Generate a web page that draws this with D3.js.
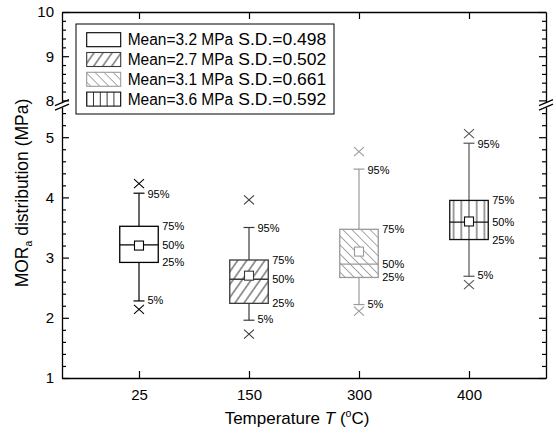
<!DOCTYPE html>
<html>
<head>
<meta charset="utf-8">
<script src="https://cdn.jsdelivr.net/npm/d3@7"></script>
<style>
  html, body { margin: 0; padding: 0; background: #fff; }
  svg { display: block; font-family: "Liberation Sans", Arial, sans-serif; }
</style>
</head>
<body>
<svg id="chart" width="556" height="433"></svg>
<script>
// Temperatures (°C) of the four groups
const categories = ["25", "150", "300", "400"];
// Percentile statistics of MOR_a (MPa) per temperature
const p5   = [2.28, 1.96, 2.22, 2.69];
const p25  = [2.92, 2.24, 2.67, 3.30];
const p50  = [3.21, 2.64, 2.89, 3.59];
const p75  = [3.52, 2.96, 3.47, 3.95];
const p95  = [4.07, 3.50, 4.47, 4.90];
const mins = [2.14, 1.73, 2.11, 2.55];
const maxs = [4.23, 3.96, 4.76, 5.06];
const means = [3.2, 2.7, 3.1, 3.6];
const sds = ["0.498", "0.502", "0.661", "0.592"];
// Axis tick values
const yTicksLow = [1, 2, 3, 4, 5];
const yTicksHigh = [8, 9, 10];

// Drawing styles for each group
const strokeColors = ["#000", "#3a3a3a", "#9a9a9a", "#111"];
const whiskerColors = ["#000", "#3a3a3a", "#9a9a9a", "#555"];
const fills = [null, "hatchFwd", "hatchBack", "vlines"];

const svg = d3.select("#chart");
const L = 62, R = 546, T = 12, B = 378;

const x = d3.scaleLinear().domain([0.3, 4.7]).range([L, R]);
// broken y axis: lower part 1–5.5, upper part 7.95–10
const yLow = d3.scaleLinear().domain([1, 5.5]).range([B, 107.1]);
const yHigh = d3.scaleLinear().domain([7.95, 10]).range([102.6, T]);
const y = v => v <= 6 ? yLow(v) : yHigh(v);

const defs = svg.append("defs");
function linePattern(id, w, angle, color, sw, ox) {
  const p = defs.append("pattern").attr("id", id)
    .attr("patternUnits", "userSpaceOnUse")
    .attr("width", w).attr("height", 40)
    .attr("x", ox || 0)
    .attr("patternTransform", angle ? `rotate(${angle})` : null);
  p.append("line").attr("x1", w / 2).attr("x2", w / 2).attr("y1", -1).attr("y2", 41)
    .attr("stroke", color).attr("stroke-width", sw);
}
linePattern("hatchFwd", 7.4, 35, "#333", 1, 0);
linePattern("hatchBack", 6.4, -45, "#9a9a9a", 0.9, 0);
linePattern("vlinesBox", 7.7, 0, "#222", 0.9, x(4) - 38.5 - 3.85);
linePattern("vlinesLeg", 6.8, 0, "#222", 0.9, 86.7 - 3.4);

const boxW = x(1.35) - x(1);
const capW = 11;

// minor tick values
const minorLow = d3.range(1, 5.51, 0.2).filter(v => Math.abs(v - Math.round(v)) > 1e-6);
const minorHigh = d3.range(8, 10.01, 0.2).filter(v => Math.abs(v - Math.round(v)) > 1e-6);

function yAxis(scale, side, majors, minors, labels) {
  const ax = side === "left" ? d3.axisLeft(scale) : d3.axisRight(scale);
  const g = svg.append("g").attr("transform", `translate(${side === "left" ? L : R},0)`);
  g.call(ax.tickValues(majors).tickSizeInner(-7).tickSizeOuter(0).tickPadding(8)
    .tickFormat(labels ? d3.format("d") : () => ""));
  const gm = svg.append("g").attr("transform", `translate(${side === "left" ? L : R},0)`);
  gm.call((side === "left" ? d3.axisLeft(scale) : d3.axisRight(scale))
    .tickValues(minors).tickSizeInner(-4).tickSizeOuter(0).tickFormat(() => ""));
  gm.select(".domain").remove();
  [g, gm].forEach(s => {
    s.selectAll("line").attr("stroke", "#000").attr("stroke-width", 1.2);
    s.select(".domain").attr("stroke", "#000").attr("stroke-width", 1.3);
    s.selectAll("text").attr("font-size", 15).attr("fill", "#000")
      .attr("font-family", "Liberation Sans, Arial, sans-serif");
  });
}
yAxis(yLow, "left", yTicksLow, minorLow, true);
yAxis(yHigh, "left", yTicksHigh, minorHigh, true);
yAxis(yLow, "right", yTicksLow, minorLow, false);
yAxis(yHigh, "right", yTicksHigh, minorHigh, false);

// bottom and top axes
const gx = svg.append("g").attr("transform", `translate(0,${B})`)
  .call(d3.axisBottom(x).tickValues([1, 2, 3, 4]).tickSizeInner(-7).tickSizeOuter(0)
    .tickPadding(11).tickFormat((d, i) => categories[i]));
const gt = svg.append("g").attr("transform", `translate(0,${T})`)
  .call(d3.axisTop(x).tickValues([1, 2, 3, 4]).tickSizeInner(-7).tickSizeOuter(0)
    .tickFormat(() => ""));
[gx, gt].forEach(s => {
  s.selectAll("line").attr("stroke", "#000").attr("stroke-width", 1.2);
  s.select(".domain").attr("stroke", "#000").attr("stroke-width", 1.3);
  s.selectAll("text").attr("font-size", 15).attr("fill", "#000")
    .attr("font-family", "Liberation Sans, Arial, sans-serif");
});

// break marks on both vertical axes
[L, R].forEach(ax => {
  [yHigh.range()[0], yLow.range()[1]].forEach(yy => {
    svg.append("line")
      .attr("x1", ax - 7).attr("y1", yy + 3).attr("x2", ax + 7).attr("y2", yy - 3)
      .attr("stroke", "#000").attr("stroke-width", 1.2);
  });
});

// boxes
const plot = svg.append("g");
categories.forEach((c, i) => {
  const cx = x(i + 1);
  const col = strokeColors[i];
  const wcol = whiskerColors[i];
  const g = plot.append("g");
  // whiskers
  g.append("line").attr("x1", cx).attr("x2", cx).attr("y1", y(p75[i])).attr("y2", y(p95[i]))
    .attr("stroke", wcol).attr("stroke-width", 1.2);
  g.append("line").attr("x1", cx).attr("x2", cx).attr("y1", y(p25[i])).attr("y2", y(p5[i]))
    .attr("stroke", wcol).attr("stroke-width", 1.2);
  [p95[i], p5[i]].forEach(v => {
    g.append("line").attr("x1", cx - capW / 2).attr("x2", cx + capW / 2)
      .attr("y1", y(v)).attr("y2", y(v)).attr("stroke", wcol).attr("stroke-width", 1.2);
  });
  // box
  const fillId = fills[i] === "vlines" ? "vlinesBox" : fills[i];
  g.append("rect").attr("x", cx - boxW / 2).attr("y", y(p75[i]))
    .attr("width", boxW).attr("height", y(p25[i]) - y(p75[i]))
    .attr("fill", fillId ? `url(#${fillId})` : "#fff")
    .attr("stroke", col).attr("stroke-width", 1.3);
  g.append("line").attr("x1", cx - boxW / 2).attr("x2", cx + boxW / 2)
    .attr("y1", y(p50[i])).attr("y2", y(p50[i])).attr("stroke", col).attr("stroke-width", 1.3);
  // mean marker
  g.append("rect").attr("x", cx - 4.5).attr("y", y(means[i]) - 4.5)
    .attr("width", 9).attr("height", 9).attr("fill", "#fff")
    .attr("stroke", col).attr("stroke-width", 1.1);
  // min / max crosses
  [mins[i], maxs[i]].forEach(v => {
    const yy = y(v);
    g.append("path").attr("d", `M${cx - 5},${yy - 4.5}L${cx + 5},${yy + 4.5}M${cx - 5},${yy + 4.5}L${cx + 5},${yy - 4.5}`)
      .attr("stroke", wcol).attr("stroke-width", 1.1).attr("fill", "none");
  });
  // percentile labels
  const lab = (tx, ty, s) => g.append("text").attr("x", tx).attr("y", ty).attr("dy", "0.36em")
    .attr("font-size", 11).attr("fill", "#000").text(s);
  lab(cx + capW / 2 + 3, y(p95[i]) + 1, "95%");
  lab(cx + capW / 2 + 3, y(p5[i]) - 1, "5%");
  lab(cx + boxW / 2 + 4, y(p75[i]), "75%");
  lab(cx + boxW / 2 + 4, y(p50[i]), "50%");
  lab(cx + boxW / 2 + 4, y(p25[i]), "25%");
});

// legend
const leg = svg.append("g");
leg.append("rect").attr("x", 76).attr("y", 24).attr("width", 258).attr("height", 90)
  .attr("fill", "#fff").attr("stroke", "#000").attr("stroke-width", 1);
categories.forEach((c, i) => {
  const cy = 39.7 + i * 19.8;
  const fillId = fills[i] === "vlines" ? "vlinesLeg" : fills[i];
  leg.append("rect").attr("x", 86.7).attr("y", cy - 7).attr("width", 34).attr("height", 14)
    .attr("fill", fillId ? `url(#${fillId})` : "#fff")
    .attr("stroke", strokeColors[i]).attr("stroke-width", 1.1);
  leg.append("text").attr("x", 127.7).attr("y", cy).attr("dy", "0.36em")
    .attr("font-size", 16).attr("fill", "#000")
    .attr("textLength", 105.5).attr("lengthAdjust", "spacingAndGlyphs")
    .text(`Mean=${d3.format(".1f")(means[i])} MPa`);
  leg.append("text").attr("x", 238.3).attr("y", cy).attr("dy", "0.36em")
    .attr("font-size", 16).attr("fill", "#000")
    .attr("textLength", 88).attr("lengthAdjust", "spacingAndGlyphs")
    .text(`S.D.=${sds[i]}`);
});

// axis titles
const xt = svg.append("text").attr("x", 297).attr("y", 424)
  .attr("text-anchor", "middle").attr("font-size", 17).attr("fill", "#000");
xt.append("tspan").text("Temperature ");
xt.append("tspan").attr("font-style", "italic").text("T");
xt.append("tspan").text(" (");
xt.append("tspan").attr("font-size", 10.5).attr("dy", -7).text("o");
xt.append("tspan").attr("dy", 7).text("C)");

const yt = svg.append("text").attr("transform", "translate(28,193) rotate(-90)")
  .attr("text-anchor", "middle").attr("font-size", 17.5).attr("fill", "#000");
yt.append("tspan").text("MOR");
yt.append("tspan").attr("font-size", 10.5).attr("dy", 4).text("a");
yt.append("tspan").attr("dy", -4).text(" distribution (MPa)");
</script>
</body>
</html>
